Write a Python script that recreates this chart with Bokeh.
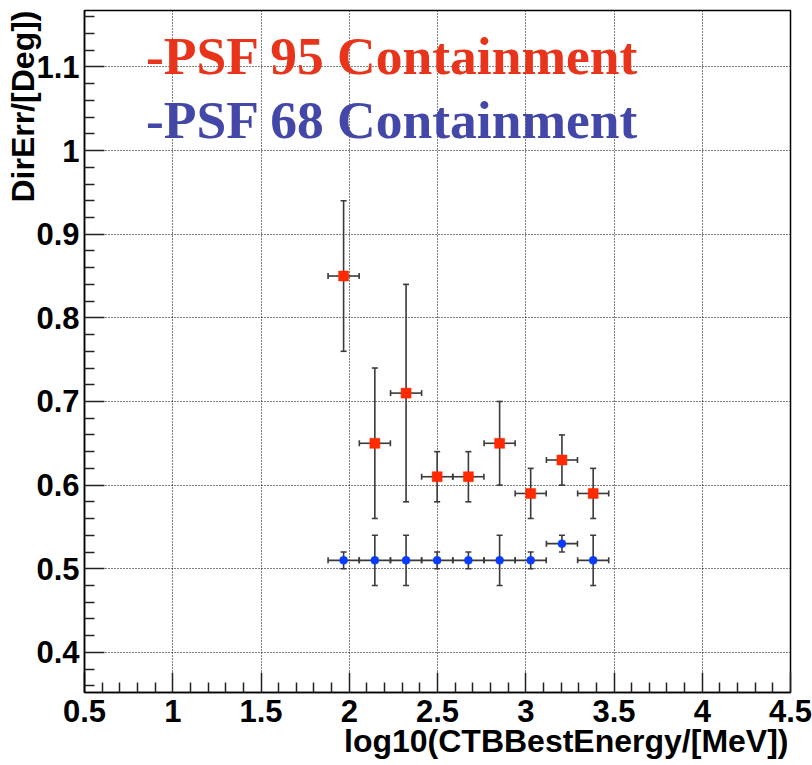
import math

from bokeh.embed import file_html
from bokeh.models import ColumnDataSource, FixedTicker, Label, Range1d, Title
from bokeh.plotting import figure
from bokeh.resources import INLINE

# Energy bins (log10 of energy in MeV): centres and half-widths
energy_bins = [1.968, 2.145, 2.322, 2.498, 2.675, 2.852, 3.028, 3.205, 3.382]
bin_half_width = [0.088, 0.088, 0.088, 0.088, 0.088, 0.088, 0.088, 0.088, 0.088]

# PSF 95% containment angle (degrees) and its uncertainty
psf95 = [0.85, 0.65, 0.71, 0.61, 0.61, 0.65, 0.59, 0.63, 0.59]
psf95_err = [0.09, 0.09, 0.13, 0.03, 0.03, 0.05, 0.03, 0.03, 0.03]

# PSF 68% containment angle (degrees) and its uncertainty
psf68 = [0.51, 0.51, 0.51, 0.51, 0.51, 0.51, 0.51, 0.53, 0.51]
psf68_err = [0.01, 0.03, 0.03, 0.01, 0.01, 0.03, 0.01, 0.01, 0.03]

# Axis ticks and their labels
x_ticks = [0.5, 1.0, 1.5, 2.0, 2.5, 3.0, 3.5, 4.0, 4.5]
x_tick_labels = ["0.5", "1", "1.5", "2", "2.5", "3", "3.5", "4", "4.5"]
x_minor = [0.6, 0.7, 0.8, 0.9, 1.1, 1.2, 1.3, 1.4, 1.6, 1.7, 1.8, 1.9,
           2.1, 2.2, 2.3, 2.4, 2.6, 2.7, 2.8, 2.9, 3.1, 3.2, 3.3, 3.4,
           3.6, 3.7, 3.8, 3.9, 4.1, 4.2, 4.3, 4.4]
y_ticks = [0.4, 0.5, 0.6, 0.7, 0.8, 0.9, 1.0, 1.1]
y_tick_labels = ["0.4", "0.5", "0.6", "0.7", "0.8", "0.9", "1", "1.1"]
y_minor = [0.36, 0.38, 0.42, 0.44, 0.46, 0.48, 0.52, 0.54, 0.56, 0.58,
           0.62, 0.64, 0.66, 0.68, 0.72, 0.74, 0.76, 0.78, 0.82, 0.84,
           0.86, 0.88, 0.92, 0.94, 0.96, 0.98, 1.02, 1.04, 1.06, 1.08,
           1.12, 1.14, 1.16]

x_title = "log10(CTBBestEnergy/[MeV])"
y_title = "DirErr/[Deg])"

X_RANGE = (0.5, 4.5)
Y_RANGE = (0.352, 1.1675)

SANS = "Liberation Sans"
SERIF = "Liberation Serif"

p = figure(
    width=812, height=765,
    x_range=Range1d(*X_RANGE), y_range=Range1d(*Y_RANGE),
    output_backend="svg", toolbar_location=None,
    min_border_left=84, min_border_right=22,
    min_border_top=10, min_border_bottom=73,
    background_fill_color="white", border_fill_color="white",
)
p.outline_line_color = "black"
p.outline_line_width = 1.5

# Axes: ROOT style, ticks drawn inside the frame
for ax, ticks, minor, labels, standoff in (
    (p.xaxis[0], x_ticks, x_minor, x_tick_labels, 7),
    (p.yaxis[0], y_ticks, y_minor, y_tick_labels, 5),
):
    ax.ticker = FixedTicker(ticks=ticks, minor_ticks=minor)
    ax.major_label_overrides = dict(zip(ticks, labels))
    ax.major_tick_in = 20
    ax.major_tick_out = 0
    ax.minor_tick_in = 10
    ax.minor_tick_out = 0
    ax.major_tick_line_color = "#222222"
    ax.minor_tick_line_color = "#222222"
    ax.major_tick_line_width = 1.5
    ax.minor_tick_line_width = 1.5
    ax.axis_line_color = "black"
    ax.axis_line_width = 1.5
    ax.major_label_text_font = SANS
    ax.major_label_text_font_style = "bold"
    ax.major_label_text_font_size = "31px"
    ax.major_label_text_color = "black"
    ax.major_label_standoff = standoff

# Axis titles, right-aligned at the far end of each axis (ROOT style)
title_style = dict(text_font=SANS, text_font_style="bold",
                   text_font_size="32px", text_color="black", align="right")
p.add_layout(Title(text=x_title, standoff=-7, offset=2, **title_style),
              "below")
p.add_layout(Title(text=y_title, standoff=-15, offset=0, **title_style),
              "left")

p.xgrid.ticker = FixedTicker(ticks=x_ticks)
p.ygrid.ticker = FixedTicker(ticks=y_ticks)
for g in (p.xgrid[0], p.ygrid[0]):
    g.grid_line_color = "black"
    g.grid_line_alpha = 1.0
    g.grid_line_width = 1
    g.grid_line_dash = "1 2"


def draw_series(values, errors, marker, size, color):
    src = ColumnDataSource(dict(
        x=energy_bins,
        y=values,
        xlo=[c - h for c, h in zip(energy_bins, bin_half_width)],
        xhi=[c + h for c, h in zip(energy_bins, bin_half_width)],
        ylo=[v - e for v, e in zip(values, errors)],
        yhi=[v + e for v, e in zip(values, errors)],
    ))
    bar = dict(line_color="#3a3a3a", line_width=1.6)
    p.segment(x0="x", y0="ylo", x1="x", y1="yhi", source=src, **bar)
    p.segment(x0="xlo", y0="y", x1="xhi", y1="y", source=src, **bar)
    # end caps
    p.scatter(x="x", y="ylo", marker="dash", size=6, source=src, **bar)
    p.scatter(x="x", y="yhi", marker="dash", size=6, source=src, **bar)
    p.scatter(x="xlo", y="y", marker="dash", angle=math.pi / 2, size=6,
              source=src, **bar)
    p.scatter(x="xhi", y="y", marker="dash", angle=math.pi / 2, size=6,
              source=src, **bar)
    p.scatter(x="x", y="y", marker=marker, size=size, source=src,
              fill_color=color, line_color=color, line_width=0.5)


draw_series(psf95, psf95_err, "square", 10, "#ff2a00")
draw_series(psf68, psf68_err, "circle", 8, "#0a3cff")

# Legend-like captions
p.add_layout(Label(x=0.848, y=1.1131, text="-PSF 95 Containment",
                   text_font=SERIF, text_font_style="bold",
                   text_font_size="53.5px", text_color="#e8341a",
                   text_baseline="alphabetic", text_align="left"))
p.add_layout(Label(x=0.848, y=1.0363, text="-PSF 68 Containment",
                   text_font=SERIF, text_font_style="bold",
                   text_font_size="53.5px", text_color="#4347a8",
                   text_baseline="alphabetic", text_align="left"))

open("out.html", "w").write(file_html(p, INLINE))
